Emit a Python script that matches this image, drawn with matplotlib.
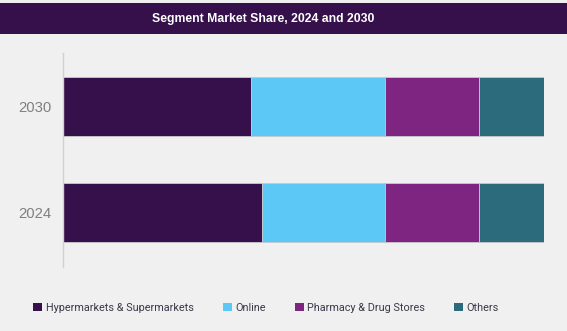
import matplotlib
matplotlib.use("Agg")
import matplotlib.pyplot as plt
from matplotlib.patches import Rectangle, Patch

years = ["2024", "2030"]
segments = ["Hypermarkets & Supermarkets", "Online", "Pharmacy & Drug Stores", "Others"]
share_2024 = [41.5, 25.5, 19.5, 13.5]
share_2030 = [39.1, 27.8, 19.5, 13.6]
colors = ["#36104a", "#5bc8f5", "#7e2582", "#2b6b7c"]

W, H = 567, 331
fig = plt.figure(figsize=(W / 100, H / 100), dpi=100)
fig.patch.set_facecolor("#f0f0f0")

# title banner
fig.patches.append(Rectangle((0, 1 - 34 / H), 1, 31 / H, transform=fig.transFigure,
                             facecolor="#35104a", edgecolor="none", zorder=0))
fig.text(263 / W, 1 - 19 / H, "Segment Market Share, 2024 and 2030", color="white",
         fontsize=8.8, fontweight="bold", ha="center", va="center",
         family="Liberation Sans")

ax = fig.add_axes([62.5 / W, (H - 267) / H, 481.8 / W, 214 / H])
ax.set_facecolor("#f0f0f0")

ypos = [0, 1]
values = {"2024": share_2024, "2030": share_2030}
for i, seg in enumerate(segments):
    vals = [values[y][i] for y in years]
    lefts = [sum(values[y][:i]) for y in years]
    ax.barh(ypos, vals, left=lefts, height=0.557, color=colors[i],
            edgecolor="#c8c8cc", linewidth=0.6, label=seg)

ax.set_xlim(0, 100)
ax.set_ylim(-0.511, 1.508)
ax.set_yticks(ypos)
ax.set_yticklabels(years, fontsize=10.7, color="#808080", family="Liberation Sans")
ax.tick_params(axis="y", length=0, pad=8)
ax.set_xticks([])
for s in ["top", "right", "bottom"]:
    ax.spines[s].set_visible(False)
ax.spines["left"].set_color("#d0d0d0")
ax.spines["left"].set_linewidth(1)

handles = [Patch(facecolor=c, edgecolor="none") for c in colors]
fig.legend(handles, segments, loc="center", bbox_to_anchor=(266 / W, 1 - 308 / H),
           ncol=4, frameon=False, handlelength=0.83, handleheight=0.83,
           handletextpad=0.3, columnspacing=2.7, labelcolor="#3a3a4a",
           prop={"family": "Roboto", "size": 7.8})

fig.savefig("out.png", dpi=100, facecolor=fig.get_facecolor())
